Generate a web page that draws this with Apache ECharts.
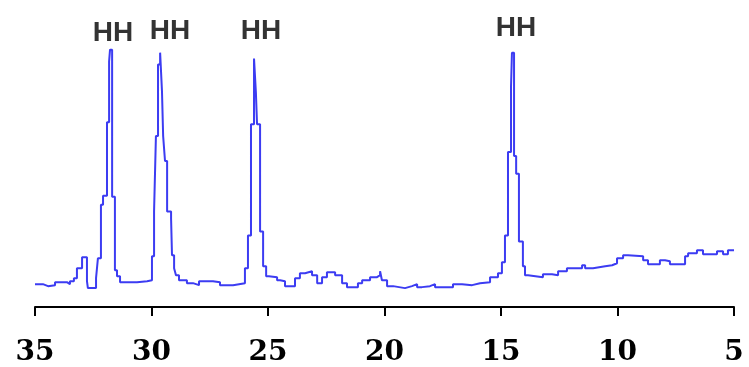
<!DOCTYPE html>
<html>
<head>
<meta charset="utf-8">
<script src="https://cdn.jsdelivr.net/npm/echarts@6/dist/echarts.min.js"></script>
<style>html,body{margin:0;padding:0;background:#fff}#c{width:749px;height:367px}</style>
</head>
<body>
<div id="c"></div>
<script>
// 2-theta (degrees), start of each step of the recorded pattern
var twoTheta = [35.0,34.66,34.44,34.14,33.63,33.50,33.33,33.20,32.98,32.77,32.73,32.38,32.30,32.17,32.08,31.91,31.82,31.78,31.69,31.57,31.48,31.35,30.62,30.19,29.98,29.89,29.81,29.72,29.63,29.55,29.50,29.42,29.33,29.16,29.12,29.03,28.95,28.82,28.48,28.22,27.96,27.36,27.06,26.50,25.99,25.86,25.73,25.60,25.52,25.47,25.34,25.21,25.08,24.96,24.61,24.48,24.27,23.84,23.63,23.41,23.11,22.89,22.68,22.47,22.12,21.82,21.61,21.14,20.96,20.62,20.32,20.19,20.11,19.89,19.63,19.12,18.82,18.60,18.39,18.05,17.83,17.06,16.67,16.24,15.90,15.47,15.13,14.96,14.83,14.70,14.57,14.53,14.44,14.35,14.23,14.06,13.97,13.84,13.20,12.81,12.55,12.17,11.52,11.39,11.05,10.53,10.23,10.02,9.76,9.55,8.90,8.69,8.18,7.96,7.75,7.10,6.97,6.59,6.33,5.73,5.47,5.26,5.0];
// intensity (arbitrary units)
var intensity = [23,21,22,25,23,26,29,39,50,26,19,29,49,103,112,186,247,259,111,37,31,25,26,27,51,96,172,244,256,217,172,147,96,89,52,39,32,27,24,22,26,25,22,24,39,72,184,250,216,184,76,41,31,30,27,26,21,29,34,36,32,24,30,35,32,24,20,24,27,30,32,36,27,21,19,21,23,20,21,23,20,23,22,24,25,30,34,45,72,156,222,256,152,134,66,41,32,30,33,32,36,39,42,39,41,42,44,49,52,51,47,43,47,46,43,51,54,57,53,56,53,57,57];
// peak annotations
var peakLabelX = [31.65,29.21,25.30,14.36];
var peakLabelY = [276,278,278,281];
var peakLabelText = ['HH','HH','HH','HH'];
var xTicks = [35,30,25,20,15,10,5];

// build a histogram-style step path from the arrays
var lineData = [];
for (var i = 0; i < twoTheta.length; i++) {
  lineData.push([twoTheta[i], intensity[i]]);
  if (i + 1 < twoTheta.length) lineData.push([twoTheta[i + 1], intensity[i]]);
}
var labelData = peakLabelX.map(function(x,i){return {value:[x,peakLabelY[i]],name:peakLabelText[i]};});

var chart = echarts.init(document.getElementById('c'),null,{renderer:'canvas'});
chart.setOption({
  animation:false,
  backgroundColor:'#ffffff',
  grid:{left:35,right:15,top:0,bottom:58},
  xAxis:{type:'value',inverse:true,min:5,max:35,interval:5,
    axisLine:{show:true,onZero:false,lineStyle:{color:'#000',width:2}},
    axisTick:{show:true,inside:false,length:9,lineStyle:{color:'#000',width:2}},
    splitLine:{show:false},
    axisLabel:{show:true,margin:32,color:'#000',fontFamily:'DejaVu Serif',fontWeight:'bold',fontSize:28,
      formatter:function(v){return xTicks.indexOf(v)>=0?String(v):'';}}
  },
  yAxis:{type:'value',min:0,max:309,show:false,splitLine:{show:false}},
  series:[
    {type:'line',data:lineData,symbol:'none',sampling:null,
     lineStyle:{color:'#3c3cf2',width:2},itemStyle:{color:'#3c3cf2'}},
    {type:'scatter',data:labelData,symbolSize:0,clip:false,
     label:{show:true,position:'inside',formatter:function(p){return p.name;},
       color:'#000',fontFamily:'Liberation Sans',fontWeight:'bold',fontSize:28,textBorderWidth:0}}
  ]
});
</script>
</body>
</html>
